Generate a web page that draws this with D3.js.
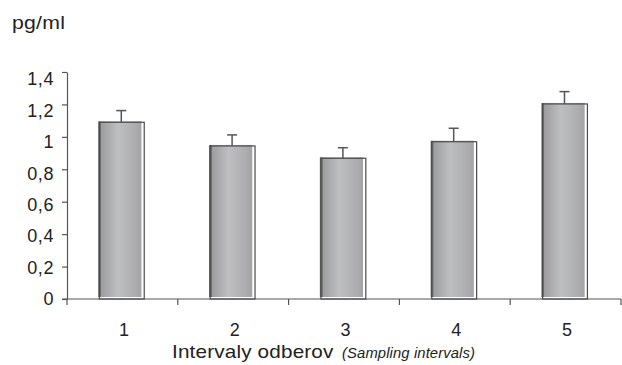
<!DOCTYPE html>
<html><head><meta charset="utf-8">
<script src="https://cdn.jsdelivr.net/npm/d3@7"></script>
<style>body{margin:0;background:#fff}svg{display:block;font-family:"Liberation Sans",Arial,sans-serif}</style>
</head><body>
<script>
const categories = ["1","2","3","4","5"];
const values = [1.09, 0.944, 0.868, 0.970, 1.203];
const errors = [0.072, 0.068, 0.065, 0.083, 0.076];
const yTicks = [0, 0.2, 0.4, 0.6, 0.8, 1, 1.2, 1.4];
const yLabel = "pg/ml";
const xLabel = "Intervaly odberov";
const xLabelSub = "(Sampling intervals)";

const W = 622, H = 365;
const svg = d3.select("body").append("svg").attr("width", W).attr("height", H);
const x = d3.scaleBand().domain(categories).range([67, 621]).padding(0);
const y = d3.scaleLinear().domain([0, 1.4]).range([299, 72]);
// tick labels in the original sit on a slightly compressed scale
const yLab = d3.scaleLinear().domain([0, 1.4]).range([299, 79]);
const bw = x.bandwidth();

const defs = svg.append("defs");
const g = defs.append("linearGradient").attr("id", "barg").attr("x1", "0").attr("x2", "1");
[["0%", "#6c6c6c"], ["6%", "#707070"], ["7%", "#9d9d9f"], ["45%", "#bebfc1"], ["85%", "#adadb0"], ["100%", "#a3a3a6"]]
  .forEach(([o, c]) => g.append("stop").attr("offset", o).attr("stop-color", c));

const axisColor = "#555";
const fmt = d => String(d).replace(".", ",");

// bars
const bars = svg.append("g");
categories.forEach((c, i) => {
  const x0 = x(c);
  bars.append("rect")
    .attr("x", x0 + bw * 0.282).attr("width", bw * 0.39)
    .attr("y", y(values[i]) - 1).attr("height", y(0) - 2 - (y(values[i]) - 1))
    .attr("fill", "url(#barg)");
  bars.append("rect")
    .attr("x", x0 + bw * 0.292).attr("width", bw * 0.405)
    .attr("y", y(values[i])).attr("height", y(0) - y(values[i]))
    .attr("fill", "none").attr("stroke", "#4a4a4a").attr("stroke-width", 1.2);
  const cx = x0 + bw * 0.49;
  bars.append("line").attr("x1", cx).attr("x2", cx)
    .attr("y1", y(values[i])).attr("y2", y(values[i] + errors[i]))
    .attr("stroke", axisColor).attr("stroke-width", 1.5);
  bars.append("line").attr("x1", cx - 5).attr("x2", cx + 5)
    .attr("y1", y(values[i] + errors[i])).attr("y2", y(values[i] + errors[i]))
    .attr("stroke", axisColor).attr("stroke-width", 1.5);
});

// y axis (lines)
const ya = svg.append("g").attr("transform", "translate(67,0)")
  .call(d3.axisLeft(y).tickValues(yTicks).tickFormat("").tickSize(5).tickSizeOuter(0));
ya.select(".domain").attr("stroke", axisColor).attr("stroke-width", 1.2);
ya.selectAll(".tick line").attr("stroke", axisColor).attr("stroke-width", 1.2);
// y axis (labels)
const yl = svg.append("g").attr("transform", "translate(67,0)")
  .call(d3.axisLeft(yLab).tickValues(yTicks).tickFormat(fmt).tickSize(0).tickPadding(13));
yl.select(".domain").remove();
yl.selectAll("text").attr("font-size", 18).attr("letter-spacing", 0.6).attr("fill", "#222")
  .attr("font-family", "Liberation Sans, Arial, sans-serif");

// x axis
const xa = svg.append("g").attr("transform", "translate(0,299)");
xa.append("line").attr("x1", 62).attr("x2", 621).attr("stroke", axisColor).attr("stroke-width", 1.2);
const bounds = categories.map(c => x(c)).concat([x(categories[categories.length - 1]) + bw]);
bounds.forEach(b => xa.append("line").attr("x1", b).attr("x2", b).attr("y1", 0).attr("y2", 6)
  .attr("stroke", axisColor).attr("stroke-width", 1.2));
categories.forEach(c => xa.append("text").attr("x", x(c) + bw / 2 + 1.5).attr("y", 37)
  .attr("text-anchor", "middle").attr("font-size", 18).attr("fill", "#222").text(c));

// labels (original type is slightly wider than Liberation Sans)
svg.append("text").attr("transform", "translate(12,29) scale(1.18,1)")
  .attr("font-size", 18).attr("letter-spacing", 0.2).attr("fill", "#222").text(yLabel);
svg.append("text").attr("transform", "translate(172,358) scale(1.15,1)")
  .attr("font-size", 18).attr("letter-spacing", 0.15).attr("fill", "#222").text(xLabel);
svg.append("text").attr("transform", "translate(342,358) scale(1.06,1)")
  .attr("font-size", 14).attr("letter-spacing", 0.1).attr("font-style", "italic")
  .attr("fill", "#222").text(xLabelSub);
</script>
</body></html>
